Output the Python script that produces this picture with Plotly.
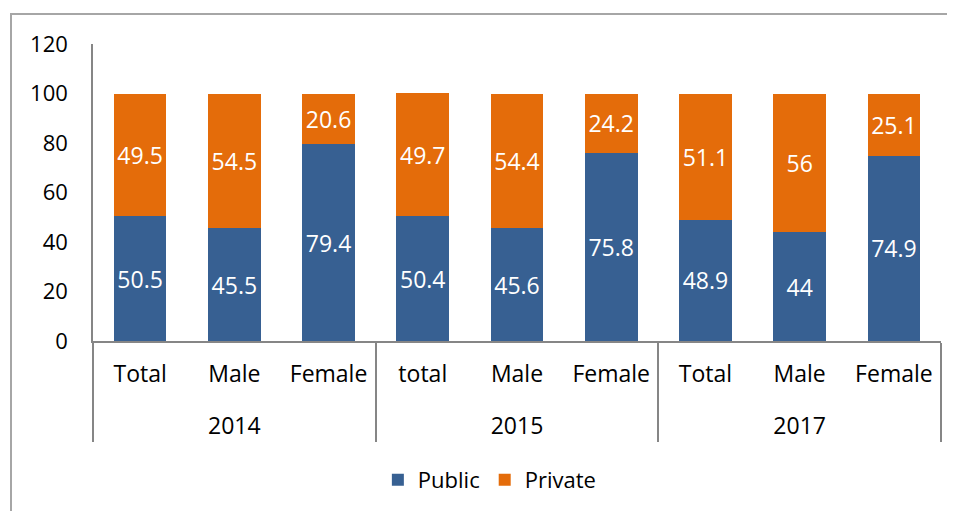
import plotly.graph_objects as go

years = ["2014", "2014", "2014", "2015", "2015", "2015", "2017", "2017", "2017"]
groups = ["Total", "Male", "Female", "total", "Male", "Female", "Total", "Male", "Female"]
public = [50.5, 45.5, 79.4, 50.4, 45.6, 75.8, 48.9, 44, 74.9]
private = [49.5, 54.5, 20.6, 49.7, 54.4, 24.2, 51.1, 56, 25.1]
y_ticks = [0, 20, 40, 60, 80, 100, 120]

FONT = "Open Sans"

# plotly orders level-2 labels by first appearance overall; a zero-width mark on the
# 2015 "Male"/"Female" keeps them after "total" inside that group.
lvl2 = [g + ("\u200b" if (yr == "2015" and g in ("Male", "Female")) else "")
        for yr, g in zip(years, groups)]
lvl1 = ["<br>" + yr for yr in years]
x = [lvl1, lvl2]

fig = go.Figure()
fig.add_trace(go.Bar(
    x=x, y=public, name="Public", marker=dict(color="#376092", line=dict(width=0)),
    text=[str(v) for v in public], textposition="inside", insidetextanchor="middle",
    textfont=dict(color="white", size=23, family=FONT), textangle=0,
))
fig.add_trace(go.Bar(
    x=x, y=private, name="Private", marker=dict(color="#E46C0A", line=dict(width=0)),
    text=[str(v) for v in private], textposition="inside", insidetextanchor="middle",
    textfont=dict(color="white", size=23, family=FONT), textangle=0,
))

fig.update_layout(
    width=955, height=511,
    barmode="stack", bargap=0.44,
    margin=dict(l=85, r=22, t=36, b=178, autoexpand=False),
    paper_bgcolor="white", plot_bgcolor="white",
    font=dict(family=FONT, size=22, color="black"),
    legend=dict(orientation="h", x=0.468, xanchor="center", y=-0.468, yanchor="middle",
                font=dict(size=22, family=FONT), traceorder="normal"),
    xaxis=dict(type="multicategory", showline=True, linecolor="#868686", linewidth=1.5,
               showdividers=True, dividercolor="#868686", dividerwidth=1.5,
               tickfont=dict(size=23, family=FONT), ticks="", showgrid=False,
               ticklabelstandoff=12),
    yaxis=dict(range=[0, 120], tickvals=y_ticks, showline=True, linecolor="#868686",
               linewidth=1.5, showgrid=False, ticks="", zeroline=False,
               ticklabelstandoff=19, tickfont=dict(size=22, family=FONT)),
    shapes=[dict(type="rect", xref="paper", yref="paper",
                 x0=-0.0967, x1=1.1, y0=-0.7, y1=1.101,
                 line=dict(color="#A6A6A6", width=2), fillcolor="rgba(0,0,0,0)", layer="below")],
)

fig.write_html("out.html")
